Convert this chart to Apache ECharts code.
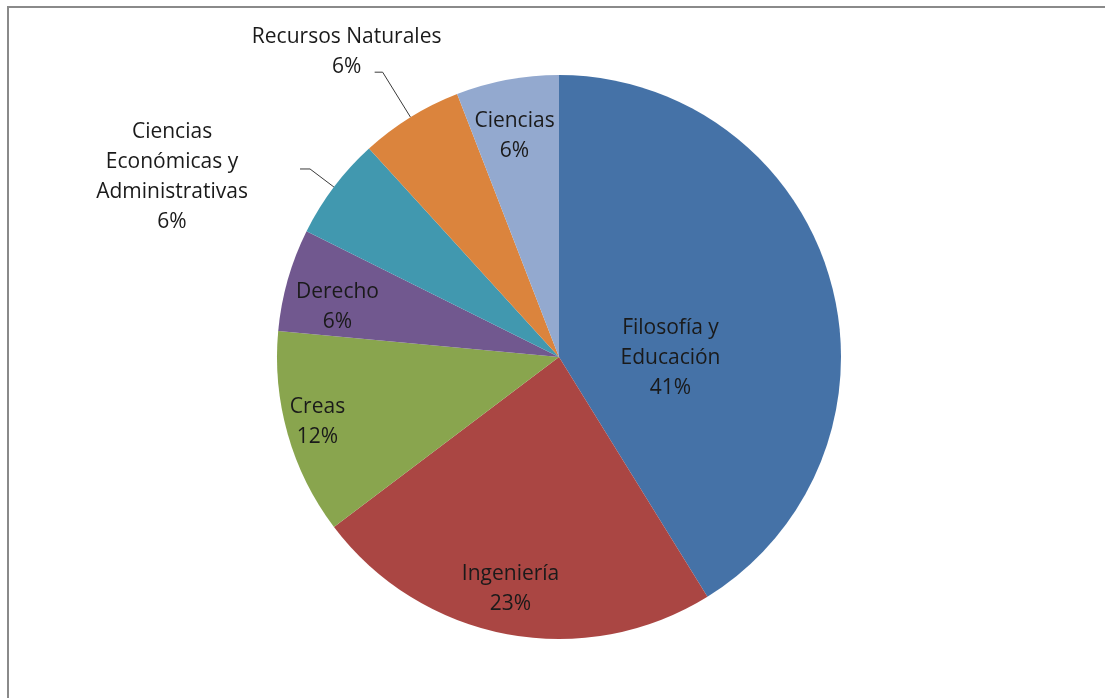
<!DOCTYPE html>
<html><head><meta charset="utf-8">
<script src="https://cdn.jsdelivr.net/npm/echarts@6/dist/echarts.min.js"></script>
<style>html,body{margin:0;padding:0;background:#fff}#c{width:1105px;height:698px}</style>
</head><body><div id="c"></div>
<script>
const categories = ['Filosofía y Educación','Ingeniería','Creas','Derecho','Ciencias Económicas y Administrativas','Recursos Naturales','Ciencias'];
const labelTexts = ['Filosofía y\nEducación','Ingeniería','Creas','Derecho','Ciencias\nEconómicas y\nAdministrativas','Recursos Naturales','Ciencias'];
const counts = [7,4,2,1,1,1,1];
const colors = ['#4572A7','#AA4643','#89A54E','#71588F','#4198AF','#DB843D','#93A9CF'];
const outsideLabel = [false,false,false,false,true,true,false];

// label placement tweaks (style, not data)
const labelShift = [[-27,40],[-22,90],[-103,26],[-83,-11],[-128,8],[-28,-20],[-18,-79]];
const lineLen = [null,null,null,null,[30,10],[53,8],null];

const chart = echarts.init(document.getElementById('c'), null, {renderer:'canvas'});
const data = categories.map((n,i)=>{
  const item = {name:n, value:counts[i], itemStyle:{color:colors[i]}};
  if (outsideLabel[i]) {
    item.label = {position:'outside'};
    item.labelLine = {show:true, length:lineLen[i][0], length2:lineLen[i][1]};
  }
  return item;
});
chart.setOption({
  backgroundColor:'#fff',
  animation:false,
  graphic:[{type:'rect', shape:{x:8, y:7, width:1200, height:800}, style:{fill:'none', stroke:'#8a8a8a', lineWidth:2}}],
  series:[{
    type:'pie',
    center:[559,357],
    radius:282,
    startAngle:90,
    clockwise:true,
    avoidLabelOverlap:false,
    percentPrecision:0,
    data:data,
    itemStyle:{borderWidth:0},
    emphasis:{disabled:true},
    label:{
      show:true,
      position:'inside',
      formatter:p=>labelTexts[p.dataIndex]+'\n'+p.percent+'%',
      fontFamily:'"Open Sans", Lato, sans-serif',
      fontSize:21,
      lineHeight:30,
      color:'#1a1a1a',
      align:'center'
    },
    labelLine:{show:false, lineStyle:{color:'#3a3a3a', width:1}, smooth:false},
    labelLayout:function(params){
      const i = params.dataIndex;
      const s = labelShift[i];
      if (outsideLabel[i] && params.labelLinePoints) {
        const p = params.labelLinePoints[2];
        return {x:p[0]+s[0], y:p[1]+s[1], align:'center', verticalAlign:'middle', labelLinePoints:params.labelLinePoints};
      }
      return {dx:s[0], dy:s[1]};
    }
  }]
});
</script>
</body></html>
